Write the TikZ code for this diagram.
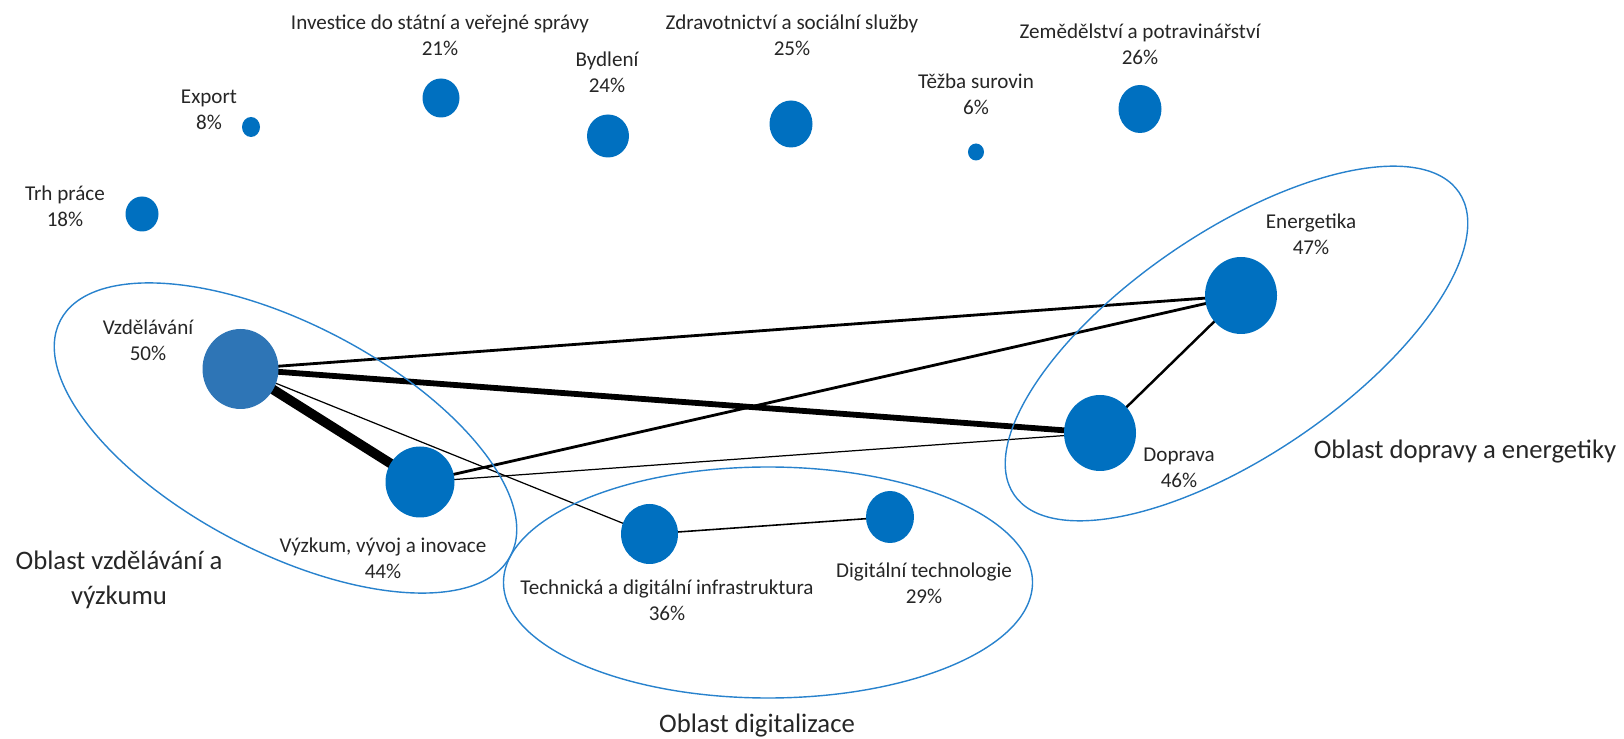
\documentclass[tikz,border=0pt]{standalone}
\usepackage{fontspec}
\setmainfont{Carlito}
\usetikzlibrary{shapes.geometric,backgrounds}

\definecolor{bubblue}{RGB}{0,112,192}
\definecolor{edublue}{RGB}{46,117,182}
\definecolor{areablue}{RGB}{40,130,205}
\definecolor{txtgray}{RGB}{38,38,38}

\def\px{0.2mm}
\def\lblfont{\fontsize{12pt}{14.7pt}\selectfont}
\def\areafont{\fontsize{15.2pt}{19.8pt}\selectfont}

\tikzset{
  bubble/.style={ellipse, fill=bubblue, inner sep=0pt},
  lbl/.style={align=center, font=\lblfont, text=txtgray, inner sep=0pt},
  area/.style={ellipse, draw=areablue, line width=0.8pt, inner sep=0pt},
  arealbl/.style={align=center, font=\areafont, text=txtgray, inner sep=0pt},
  link/.style={draw=black, line cap=round}
}

\begin{document}
\begin{tikzpicture}[x=\px, y=-\px]
 \useasboundingbox (0,0) rectangle (1624,739);
 % Bubbles with no link
 \foreach \n/\x/\y/\w/\h/\lx/\ly/\txt/\pct in {
   trh/142/214/33/35/65/206/Trh práce/18,
   export/251/127/18/20/209/110/Export/8,
   invest/441/98/37/39/440/35/Investice do státní a veřejné správy/21,
   bydleni/608/136/42/43/607/72/Bydlení/24,
   zdrav/791/124/43/47/792/35/Zdravotnictví a sociální služby/25,
   tezba/976/152/16/17/976/94/Těžba surovin/6,
   zemed/1140/109/43/48/1140/44/Zemědělství a potravinářství/26}
 {
  \node[bubble, minimum width=\w*\px, minimum height=\h*\px] (\n) at (\x,\y) {};
  \node[lbl] (\n-lbl) at (\lx,\ly) {\txt\\\pct\%};
 }
 % Linked bubbles
 \node[bubble, fill=edublue, minimum width=76*\px, minimum height=80*\px] (vzdel) at (240.5,369) {};
 \node[bubble, minimum width=69*\px, minimum height=71*\px] (vyzkum) at (420,482) {};
 \node[bubble, minimum width=57*\px, minimum height=60*\px] (tech) at (649.5,534) {};
 \node[bubble, minimum width=48*\px, minimum height=52*\px] (digi) at (890,517) {};
 \node[bubble, minimum width=72*\px, minimum height=76*\px] (doprava) at (1100,433) {};
 \node[bubble, minimum width=72*\px, minimum height=77*\px] (energ) at (1241,295.5) {};
 % Their labels
 \node[lbl] (vzdel-lbl) at (148,340) {Vzdělávání\\50\%};
 \node[lbl] (vyzkum-lbl) at (383,558) {Výzkum, vývoj a inovace\\44\%};
 \node[lbl] (tech-lbl) at (667,600) {Technická a digitální infrastruktura\\36\%};
 \node[lbl] (digi-lbl) at (924,583.5) {Digitální technologie\\29\%};
 \node[lbl] (doprava-lbl) at (1179,468) {Doprava\\46\%};
 \node[lbl] (energ-lbl) at (1311,234) {Energetika\\47\%};
 % Links
 \begin{scope}[on background layer]
  \draw[link, line width=5.5pt] (vzdel.center) -- (vyzkum.center);
  \draw[link, line width=3.3pt] (vzdel.center) -- (doprava.center);
  \draw[link, line width=1.6pt] (vzdel.center) -- (energ.center);
  \draw[link, line width=0.7pt] (vzdel.center) -- (tech.center);
  \draw[link, line width=1.6pt] (vyzkum.center) -- (energ.center);
  \draw[link, line width=0.7pt] (vyzkum.center) -- (doprava.center);
  \draw[link, line width=1.4pt] (doprava.center) -- (energ.center);
  \draw[link, line width=0.9pt] (tech.center) -- (digi.center);
 \end{scope}
 % Areas
 \node[area, minimum width=508*\px, minimum height=228*\px, rotate=-27.6] (edu-area) at (285.5,438) {};
 \node[area, minimum width=529*\px, minimum height=231*\px] (digi-area) at (768,582.5) {};
 \node[area, minimum width=538*\px, minimum height=224*\px, rotate=34.2] (en-area) at (1236.5,343.5) {};
 \node[arealbl] (edu-lbl) at (119,580) {Oblast vzdělávání a\\výzkumu};
 \node[arealbl] (digi-area-lbl) at (757,726) {Oblast digitalizace};
 \node[arealbl] (en-lbl) at (1465,452) {Oblast dopravy a energetiky};
\end{tikzpicture}
\end{document}
